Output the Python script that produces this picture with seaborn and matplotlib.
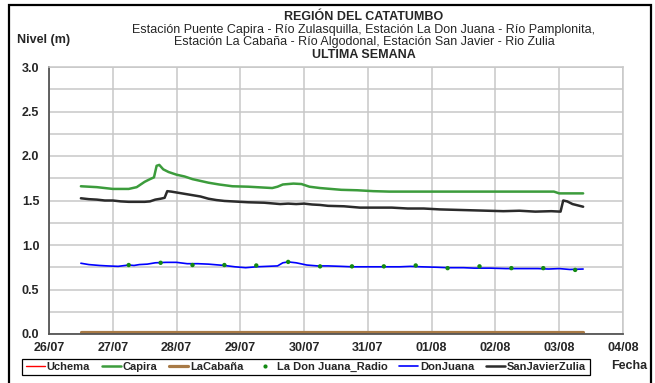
import matplotlib
matplotlib.use("Agg")
import matplotlib.pyplot as plt
from matplotlib.lines import Line2D
from matplotlib.patches import Rectangle
import seaborn as sns

# Day labels on the x axis (hours counted from 26/07 00:00)
day_labels = ["26/07", "27/07", "28/07", "29/07", "30/07",
              "31/07", "01/08", "02/08", "03/08", "04/08"]

# Puente Capira - Río Zulasquilla
capira_h = [12, 18, 24, 30, 33, 36, 38, 39.5, 40.5, 41.5, 43, 45, 48, 51, 54, 57, 60,
            64, 69, 75, 81, 84, 86, 88, 92, 95, 98, 102, 106, 110, 116, 122, 128,
            136, 150, 160, 170, 180, 190, 192, 201]
capira_v = [1.66, 1.65, 1.63, 1.63, 1.65, 1.71, 1.74, 1.76, 1.89, 1.90, 1.85, 1.82, 1.79,
            1.77, 1.74, 1.72, 1.70, 1.68, 1.66, 1.655, 1.645, 1.64, 1.655, 1.68, 1.69,
            1.685, 1.655, 1.64, 1.63, 1.62, 1.615, 1.605, 1.60, 1.60, 1.60, 1.60, 1.60,
            1.60, 1.60, 1.58, 1.58]

# San Javier - Río Zulia
sanjavier_h = [12, 15, 18, 21, 24, 27, 30, 33, 36, 38, 40, 42, 43.5, 44.5, 46, 48, 51,
               54, 57, 60, 63, 66, 69, 75, 81, 87, 90, 93, 96, 99, 102, 105, 111, 117,
               123, 129, 135, 141, 147, 153, 159, 165, 171, 177, 183, 189, 192.5, 193.5,
               195, 197, 201]
sanjavier_v = [1.525, 1.515, 1.51, 1.50, 1.50, 1.49, 1.485, 1.485, 1.485, 1.49, 1.51,
               1.52, 1.53, 1.605, 1.60, 1.59, 1.575, 1.56, 1.545, 1.52, 1.505, 1.495,
               1.49, 1.48, 1.475, 1.46, 1.465, 1.46, 1.465, 1.455, 1.45, 1.44, 1.435,
               1.42, 1.42, 1.42, 1.41, 1.41, 1.40, 1.395, 1.39, 1.385, 1.38, 1.385,
               1.375, 1.38, 1.375, 1.50, 1.49, 1.46, 1.43]

# La Don Juana - Río Pamplonita
donjuana_h = [12, 15, 19, 22, 26, 30, 32, 34, 37, 40, 44, 48, 52, 56, 60, 66, 70, 74,
              78, 82, 86, 88, 90, 93, 97, 101, 105, 110, 114, 120, 126, 132, 136, 140,
              146, 150, 156, 160, 166, 172, 178, 184, 188, 192, 196, 201]
donjuana_v = [0.795, 0.78, 0.77, 0.765, 0.76, 0.775, 0.77, 0.78, 0.785, 0.80, 0.805,
              0.805, 0.79, 0.79, 0.785, 0.77, 0.755, 0.745, 0.755, 0.76, 0.765, 0.80,
              0.81, 0.80, 0.775, 0.765, 0.765, 0.76, 0.755, 0.755, 0.755, 0.755, 0.76,
              0.755, 0.75, 0.745, 0.745, 0.74, 0.74, 0.735, 0.735, 0.735, 0.73, 0.735,
              0.725, 0.73]

# La Don Juana radio readings (every 12 h)
radio_h = [30, 42, 54, 66, 78, 90, 102, 114, 126, 138, 150, 162, 174, 186, 198]
radio_v = [0.775, 0.80, 0.775, 0.775, 0.77, 0.81, 0.76, 0.76, 0.76, 0.77, 0.74,
           0.76, 0.74, 0.74, 0.72]

# La Cabaña - Río Algodonal
cabana_h = [12, 36, 60, 84, 108, 132, 156, 180, 201]
cabana_v = [0.02, 0.02, 0.02, 0.02, 0.02, 0.02, 0.02, 0.02, 0.02]

# Uchema has no readings this week
uchema_h = []
uchema_v = []

C_UCHEMA = "#ff0000"
C_CAPIRA = "#3c9c3c"
C_CABANA = "#a87a46"
C_RADIO = "#138a13"
C_DONJ = "#0000ff"
C_SANJ = "#2b2b2b"

sns.set_style("white")
plt.rcParams["font.family"] = ["Liberation Sans", "DejaVu Sans"]

fig = plt.figure(figsize=(6.55, 3.83), dpi=100)
W, H = 655, 383
ax = fig.add_axes([49 / W, 1 - 334 / H, (623 - 49) / W, (334 - 67) / H])

sns.lineplot(x=cabana_h, y=cabana_v, ax=ax, color=C_CABANA, lw=2.3, legend=False)
sns.lineplot(x=capira_h, y=capira_v, ax=ax, color=C_CAPIRA, lw=1.8, legend=False)
sns.lineplot(x=sanjavier_h, y=sanjavier_v, ax=ax, color=C_SANJ, lw=1.8, legend=False)
sns.lineplot(x=donjuana_h, y=donjuana_v, ax=ax, color=C_DONJ, lw=1.2, legend=False)
sns.scatterplot(x=radio_h, y=radio_v, ax=ax, color=C_RADIO, s=10, edgecolor="none",
                zorder=5, legend=False)
if uchema_h:
    sns.lineplot(x=uchema_h, y=uchema_v, ax=ax, color=C_UCHEMA, lw=1.0, legend=False)

ax.set_xlim(0, 24 * (len(day_labels) - 1))
ax.set_ylim(0, 3.0)
ax.set_xticks([24 * i for i in range(len(day_labels))])
ax.set_xticklabels(day_labels)
ax.set_yticks([0.0, 0.5, 1.0, 1.5, 2.0, 2.5, 3.0])
ax.set_yticklabels([f"{v:.1f}" for v in ax.get_yticks()])
ax.set_yticks([0.25, 0.75, 1.25, 1.75, 2.25, 2.75], minor=True)
ax.set_xlabel("")
ax.set_ylabel("")

grid_c = "#c8c8c8"
ax.grid(True, which="major", color=grid_c, lw=1.1)
ax.grid(True, which="minor", axis="y", color=grid_c, lw=1.1)
ax.set_axisbelow(True)
for s in ("top", "right"):
    ax.spines[s].set_color(grid_c)
    ax.spines[s].set_linewidth(1.1)
for s in ("left", "bottom"):
    ax.spines[s].set_color("#555555")
    ax.spines[s].set_linewidth(1.3)

ax.tick_params(axis="both", which="major", direction="out", length=4, width=1.0,
               color="#555555", labelsize=9, pad=3)
ax.tick_params(axis="y", which="minor", length=0)
ax.tick_params(axis="x", pad=2)
for lab in ax.get_xticklabels() + ax.get_yticklabels():
    lab.set_fontweight("bold")

# Titles
tx = 364 / W
fig.text(tx, 1 - 17.5 / H, "REGIÓN DEL CATATUMBO", ha="center", va="center",
         fontsize=9, fontweight="bold")
fig.text(tx, 1 - 30 / H,
         "Estación Puente Capira - Río Zulasquilla, Estación La Don Juana - Río Pamplonita,",
         ha="center", va="center", fontsize=9)
fig.text(tx, 1 - 42.5 / H,
         "Estación La Cabaña - Río Algodonal, Estación San Javier - Rio Zulia",
         ha="center", va="center", fontsize=9)
fig.text(tx, 1 - 55 / H, "ULTIMA SEMANA", ha="center", va="center",
         fontsize=9, fontweight="bold")
fig.text(17 / W, 1 - 40 / H, "Nivel (m)", ha="left", va="center",
         fontsize=9, fontweight="bold")
fig.text(629 / W, 1 - 366 / H, "Fecha", ha="center", va="center",
         fontsize=9, fontweight="bold")

handles = [
    Line2D([], [], color=C_UCHEMA, lw=1.0),
    Line2D([], [], color=C_CAPIRA, lw=1.8),
    Line2D([], [], color=C_CABANA, lw=2.3),
    Line2D([], [], color=C_RADIO, lw=0, marker="o", markersize=3, markeredgewidth=0),
    Line2D([], [], color=C_DONJ, lw=1.2),
    Line2D([], [], color=C_SANJ, lw=1.8),
]
labels = ["Uchema", "Capira", "LaCabaña", "La Don Juana_Radio", "DonJuana",
          "SanJavierZulia"]
leg = fig.legend(handles, labels, ncol=6, loc="center",
                 bbox_to_anchor=(306 / W, 1 - 367 / H),
                 frameon=True, fancybox=False, shadow=False, edgecolor="black",
                 framealpha=1, prop=dict(weight="bold", size=8),
                 handlelength=1.7, handletextpad=0.2, columnspacing=1.05,
                 borderpad=0.3, borderaxespad=0)
leg.get_frame().set_linewidth(0.9)

# Outer chart border
fig.patches.append(Rectangle((9 / W, -0.05), (651 - 9) / W, 1 - 5 / H + 0.05,
                             transform=fig.transFigure, fill=False,
                             edgecolor="black", lw=1.6, zorder=10))

fig.savefig("out.png", dpi=100)
